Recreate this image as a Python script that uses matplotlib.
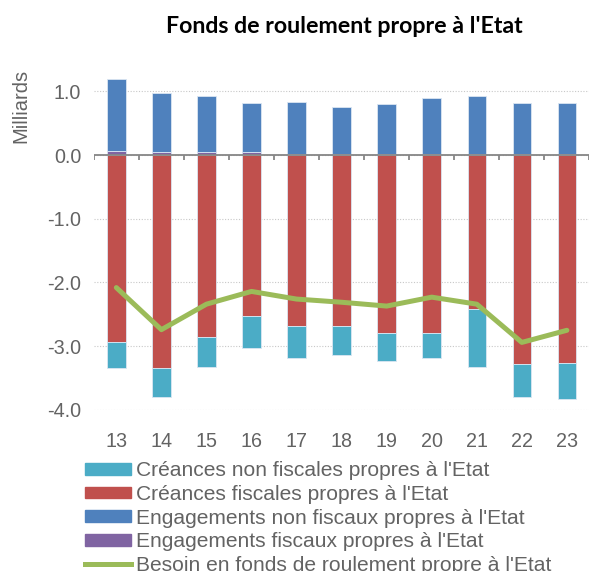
import matplotlib.pyplot as plt
import matplotlib.patches as mpatches
import matplotlib.lines as mlines
import numpy as np

plt.rcParams['font.family'] = ['Liberation Sans', 'DejaVu Sans']

# data, in milliards
years = ['13', '14', '15', '16', '17', '18', '19', '20', '21', '22', '23']
creances_non_fisc = [-0.41, -0.46, -0.48, -0.50, -0.49, -0.45, -0.44, -0.39, -0.91, -0.51, -0.56]
creances_fisc = [-2.93, -3.34, -2.85, -2.53, -2.69, -2.69, -2.79, -2.80, -2.42, -3.28, -3.26]
engag_non_fisc = [1.13, 0.92, 0.87, 0.78, 0.81, 0.75, 0.79, 0.88, 0.92, 0.80, 0.81]
engag_fisc = [0.06, 0.05, 0.05, 0.04, 0.02, 0.01, 0.01, 0.01, 0.01, 0.01, 0.01]
besoin = [-2.08, -2.74, -2.34, -2.14, -2.26, -2.31, -2.37, -2.23, -2.34, -2.94, -2.75]

grey = '#636363'
x = np.arange(len(years))
w = 0.41

fig = plt.figure(figsize=(5.9, 5.71), dpi=100)
ax = fig.add_axes([0.159, 0.282, 0.840, 0.614])

ec = '#dbe6f2'
ax.bar(x, creances_fisc, w, color='#C0504D', edgecolor=ec, linewidth=0.6, zorder=2)
ax.bar(x, creances_non_fisc, w, bottom=creances_fisc, color='#4BACC6', edgecolor=ec, linewidth=0.6, zorder=2)
ax.bar(x, engag_fisc, w, color='#8064A2', edgecolor=ec, linewidth=0.6, zorder=2)
ax.bar(x, engag_non_fisc, w, bottom=engag_fisc, color='#4F81BD', edgecolor=ec, linewidth=0.6, zorder=2)
ax.plot(x, besoin, color='#9BBB59', linewidth=3.6, solid_capstyle='round', zorder=3)

# axis line at zero with boundary ticks
ax.axhline(0, color='#868686', linewidth=1.3, zorder=4)
bounds = np.arange(len(years) + 1) - 0.5
ax.vlines(bounds, -0.085, 0, color='#868686', linewidth=1.3, zorder=4)

ax.set_xlim(-0.5, len(years) - 0.5)
ax.set_ylim(-4.0, 1.5)
ax.set_yticks([-4, -3, -2, -1, 0, 1])
ax.set_yticklabels(['%.1f' % v for v in [-4, -3, -2, -1, 0, 1]])
ax.set_xticks(x)
ax.set_xticklabels(years)
ax.yaxis.grid(True, color='#c8c8c8', linestyle=(0, (1, 1.5)), linewidth=0.8, zorder=0)
ax.set_axisbelow(True)
for s in ax.spines.values():
    s.set_visible(False)
ax.tick_params(length=0, labelsize=14.2, labelcolor=grey)
ax.tick_params(axis='x', pad=16)
ax.tick_params(axis='y', pad=9)

fig.text(0.035, 0.814, 'Milliards', rotation=90, fontsize=14.5, color=grey, ha='center', va='center')
fig.text(0.583, 0.953, "Fonds de roulement propre à l'Etat", fontsize=16.7, fontweight='bold',
         family=['Lato', 'DejaVu Sans'], ha='center', va='center')

handles = [
    mpatches.Patch(color='#4BACC6', label="Créances non fiscales propres à l'Etat"),
    mpatches.Patch(color='#C0504D', label="Créances fiscales propres à l'Etat"),
    mpatches.Patch(color='#4F81BD', label="Engagements non fiscaux propres à l'Etat"),
    mpatches.Patch(color='#8064A2', label="Engagements fiscaux propres à l'Etat"),
    mlines.Line2D([], [], color='#9BBB59', linewidth=3.6, label="Besoin en fonds de roulement propre à l'Etat"),
]
leg = fig.legend(handles=handles, loc='upper left', bbox_to_anchor=(0.144, 0.192), frameon=False,
                 fontsize=15.1, handlelength=2.2, handleheight=0.48, handletextpad=0.25,
                 labelspacing=0.22, borderpad=0, borderaxespad=0)
for t in leg.get_texts():
    t.set_color(grey)

fig.savefig('out.png', dpi=100)
